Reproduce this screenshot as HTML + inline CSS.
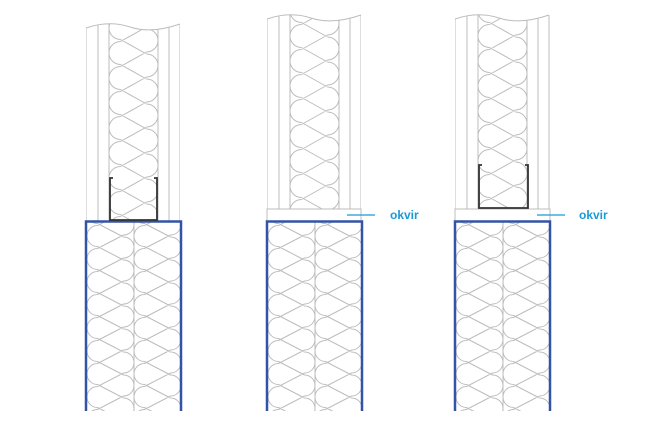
<!DOCTYPE html>
<html><head><meta charset="utf-8"><style>
html,body{margin:0;padding:0;background:#fff;width:650px;height:431px;overflow:hidden}
svg{display:block}
text{font-family:"Liberation Sans",sans-serif}
</style></head><body>
<svg id="s" width="650" height="431" viewBox="0 0 650 431" xmlns="http://www.w3.org/2000/svg">
<defs>
<clipPath id="c1"><path d="M86 28 Q110 20 130 27 T180 24 V221 H86Z"/></clipPath>
<clipPath id="c2"><path d="M267 19 Q290 11 311 18 T361 15 V209 H267Z"/></clipPath>
<clipPath id="c3"><path d="M455 19 Q478 11 499 18 T550 15 V209 H455Z"/></clipPath>
<clipPath id="lb"><rect x="0" y="221" width="650" height="190"/></clipPath>
</defs>
<g id="g" fill="none" stroke="#bdbdbd" stroke-width="1"></g>
<text x="390" y="219" fill="#1a9ad6" font-size="12" font-weight="bold">okvir</text>
<text x="579" y="219" fill="#1a9ad6" font-size="12" font-weight="bold">okvir</text>
</svg>
<script>
var g=document.getElementById('g'),NS='http://www.w3.org/2000/svg';
function el(t,a,p){var e=document.createElementNS(NS,t);for(var k in a)e.setAttribute(k,a[k]);(p||g).appendChild(e);return e}
function ins(x0,x1,y0,y1,P,r,parent){
  var d='';
  for(var yc=y0-2*P;yc<y1+2*P;yc+=P){
    // left loop
    d+='M'+(x0+r)+' '+(yc-r)+' A'+r+' '+r+' 0 0 0 '+(x0+r)+' '+(yc+r)+' ';
    d+='M'+(x0+r)+' '+(yc+r)+' L'+(x1-r)+' '+(yc+1.5*P-r)+' ';
    var yr=yc+P/2;
    d+='M'+(x1-r)+' '+(yr-r)+' A'+r+' '+r+' 0 0 1 '+(x1-r)+' '+(yr+r)+' ';
    d+='M'+(x1-r)+' '+(yr+r)+' L'+(x0+r)+' '+(yr+1.5*P-r)+' ';
  }
  el('path',{d:d},parent);
}
function upper(L,top,clip,bot,off){
  var gg=el('g',{'clip-path':'url(#'+clip+')'});
  var xs=[0,12,23,72,83,94];
  xs.forEach(function(o){el('line',{x1:L+o,y1:0,x2:L+o,y2:bot},gg)});
  ins(L+23,L+72,top+off,bot,25,11.5,gg);
  el('path',{d:'M'+L+' '+(top+13)+' Q'+(L+23)+' '+(top+5)+' '+(L+44)+' '+(top+12)+' T'+(L+94)+' '+(top+9)});
}
function lower(L){
  var gg=el('g',{'clip-path':'url(#lb)'});
  ins(L+1,L+48,236,411,23,10.5,gg);
  ins(L+48,L+95,236,411,23,10.5,gg);
  el('line',{x1:L+48,y1:221,x2:L+48,y2:411},gg);
  el('path',{d:'M'+L+' 411 V221.5 H'+(L+95)+' V411',stroke:'#3354a6','stroke-width':'2.5'});
}
upper(86,15,'c1',221,38);
upper(267,6,'c2',209,30);
upper(455,6,'c3',209,30);
el('rect',{x:267,y:209,width:94,height:12});
el('rect',{x:455,y:209,width:95,height:12});
lower(86);lower(267);lower(455);
el('path',{d:'M113 178 H110 V220 H157 V178 H154',stroke:'#333','stroke-width':'1.8'});
el('path',{d:'M482 165 H479 V208 H528 V165 H525',stroke:'#333','stroke-width':'1.8'});
el('line',{x1:347,y1:215,x2:375,y2:215,stroke:'#1a9ad6','stroke-width':'1.2'});
el('line',{x1:537,y1:215,x2:565,y2:215,stroke:'#1a9ad6','stroke-width':'1.2'});
</script>
</body></html>
